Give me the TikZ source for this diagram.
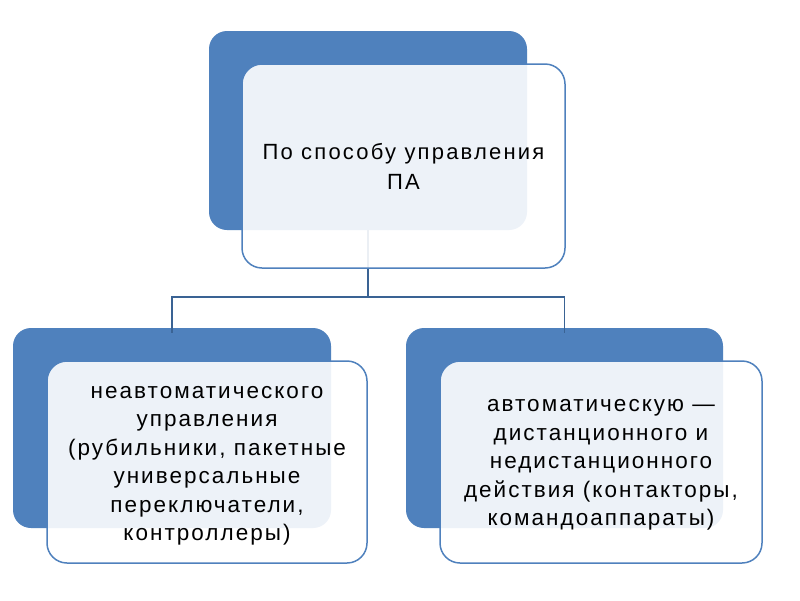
\documentclass[tikz,border=0pt]{standalone}
\usepackage{fontspec}
\setmainfont{Liberation Sans}
\newfontfamily\spacedtop[LetterSpace=10]{Liberation Sans}
\newfontfamily\spacedsub[LetterSpace=9]{Liberation Sans}
\definecolor{accent}{HTML}{4F81BD}
\definecolor{conn}{HTML}{3A6394}
\tikzset{
  back/.style={rectangle, rounded corners=18pt, fill=accent, draw=none, inner sep=0pt},
  front/.style={rectangle, rounded corners=20pt, draw=accent, line width=1.5pt, fill=white, fill opacity=0.9, inner sep=0pt},
  label text/.style={inner sep=0pt, align=center, text=black},
  link/.style={draw=conn, line width=1.5pt},
  toptext/.style={label text, font=\spacedtop\fontsize{22}{30}\selectfont},
  subtext/.style={label text, font=\spacedsub\fontsize{22.5}{28.5}\selectfont}
}
\begin{document}
\begin{tikzpicture}[x=1pt,y=-1pt]
\useasboundingbox[fill=white] (0,0) rectangle (800,600);
\node[back, minimum width=318pt, minimum height=199pt] (tb) at (368,130.5) {};
\node[back, minimum width=318pt, minimum height=200pt] (lb) at (172,428) {};
\node[back, minimum width=317pt, minimum height=200pt] (rb) at (564.5,428) {};
\coordinate (split) at (368,297);
\draw[link] (tb.south) -- (split);
\draw[link] (split) -| ([yshift=-5pt]lb.north);
\draw[link] (split) -| ([yshift=-5pt]rb.north);
\node[front, minimum width=323pt, minimum height=204pt] (tf) at (403.5,166) {};
\node[front, minimum width=320pt, minimum height=202pt] (lf) at (207,462) {};
\node[front, minimum width=322pt, minimum height=202pt] (rf) at (601,462) {};
\node[toptext] (tft) at (tf.center) {По способу управления\\ПА};
\node[subtext] (lft) at ([yshift=-4pt]lf.center) {неавтоматического\\управления\\(рубильники, пакетные\\универсальные\\переключатели,\\контроллеры)};
\node[subtext] (rft) at ([yshift=-3pt]rf.center) {автоматическую —\\дистанционного и\\недистанционного\\действия (контакторы,\\командоаппараты)};
\end{tikzpicture}
\end{document}
